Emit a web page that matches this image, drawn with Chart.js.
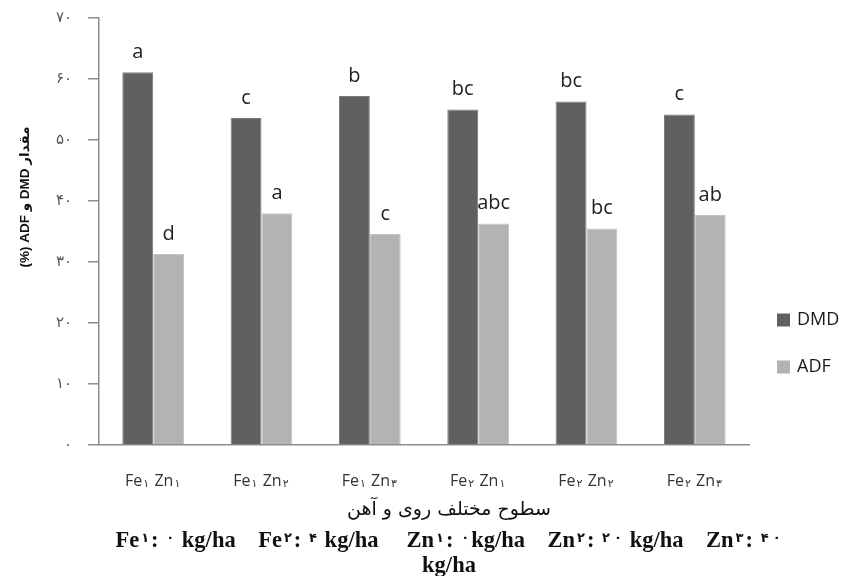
<!DOCTYPE html>
<html>
<head>
<meta charset="utf-8">
<script src="https://cdn.jsdelivr.net/npm/chart.js@4.4.1/dist/chart.umd.min.js"></script>
<style>
  html, body { margin: 0; padding: 0; background: #fff; }
  #wrap { width: 844px; height: 576px; }
</style>
</head>
<body>
<div id="wrap"><canvas id="c" width="844" height="576"></canvas></div>
<script>
// Treatment levels (iron x zinc)
const categories = ['Fe۱ Zn۱', 'Fe۱ Zn۲', 'Fe۱ Zn۳', 'Fe۲ Zn۱', 'Fe۲ Zn۲', 'Fe۲ Zn۳'];

// Dry matter digestibility and acid detergent fibre (%)
const dmdValues = [61.1, 53.6, 57.2, 55.0, 56.3, 54.2];
const adfValues = [31.3, 38.0, 34.6, 36.3, 35.5, 37.7];

// Mean-separation letters
const dmdLetters = ['a', 'c', 'b', 'bc', 'bc', 'c'];
const adfLetters = ['d', 'a', 'c', 'abc', 'bc', 'ab'];

// Y-axis tick labels in Persian digits
const yTickLabels = ['۰', '۱۰', '۲۰', '۳۰', '۴۰', '۵۰', '۶۰', '۷۰'];

const yTitle = 'مقدار DMD و ADF (%)';
const xTitle = 'سطوح مختلف روی و آهن';
const noteLine1 = 'Fe۱: ۰ kg/ha    Fe۲: ۴ kg/ha     Zn۱: ۰kg/ha    Zn۲: ۲۰ kg/ha    Zn۳: ۴۰';
const noteLine2 = 'kg/ha';

const DMD_COLOR = '#606060';
const ADF_COLOR = '#b3b3b3';
const AXIS_COLOR = '#8c8c8c';

const letterLists = [dmdLetters, adfLetters];

// Draws text centred at cx; Persian digits use their own font, advance and shift
function drawRich(ctx, text, cx, baseline, mainFont, digitFont, digitShift, digitAdvance) {
  const runs = [];
  for (const ch of text) {
    const isDigit = /[\u06F0-\u06F9]/.test(ch);
    if (isDigit) { runs.push({ t: ch, d: true }); continue; }
    const last = runs[runs.length - 1];
    if (last && !last.d) last.t += ch;
    else runs.push({ t: ch, d: false });
  }
  let total = 0;
  runs.forEach(r => {
    ctx.font = r.d ? digitFont : mainFont;
    r.gw = ctx.measureText(r.t).width;
    r.w = r.d ? Math.max(r.gw, digitAdvance) : r.gw;
    total += r.w;
  });
  let x = cx - total / 2;
  ctx.textAlign = 'left';
  ctx.textBaseline = 'alphabetic';
  runs.forEach(r => {
    ctx.font = r.d ? digitFont : mainFont;
    const off = r.d ? (r.w - r.gw) / 2 : 0;
    ctx.fillText(r.t, x + off, baseline + (r.d ? digitShift : 0));
    x += r.w;
  });
}

const annotations = {
  id: 'annotations',
  afterDatasetsDraw(chart) {
    const ctx = chart.ctx;
    ctx.save();
    // letters above bars
    ctx.font = '20px "Open Sans", "Liberation Sans", sans-serif';
    ctx.fillStyle = '#222';
    ctx.textAlign = 'center';
    ctx.textBaseline = 'middle';
    chart.data.datasets.forEach((ds, di) => {
      const meta = chart.getDatasetMeta(di);
      meta.data.forEach((bar, i) => {
        ctx.fillText(letterLists[di][i], bar.x, bar.y - 20);
      });
    });
    ctx.restore();
  },
  afterDraw(chart) {
    const ctx = chart.ctx;
    const xScale = chart.scales.x;
    ctx.save();

    // category labels with subscript digits
    ctx.fillStyle = '#333';
    chart.data.labels.forEach((lab, i) => {
      drawRich(ctx, lab, xScale.getPixelForValue(i), 486,
        '16px "Open Sans", "Liberation Sans", sans-serif',
        '11px "DejaVu Sans", sans-serif', 1, 8);
    });

    // y-axis title
    ctx.save();
    ctx.translate(25, 197);
    ctx.rotate(-Math.PI / 2);
    ctx.direction = 'rtl';
    ctx.font = 'bold 13.5px "Liberation Sans", "DejaVu Sans", sans-serif';
    ctx.fillStyle = '#111';
    ctx.textAlign = 'center';
    ctx.textBaseline = 'middle';
    ctx.fillText(yTitle, 0, 0);
    ctx.restore();

    // x-axis title
    ctx.save();
    ctx.direction = 'rtl';
    ctx.font = '19px "DejaVu Sans", sans-serif';
    ctx.fillStyle = '#111';
    ctx.textAlign = 'center';
    ctx.textBaseline = 'middle';
    ctx.fillText(xTitle, 449, 510);
    ctx.restore();

    // footnote with level definitions
    ctx.fillStyle = '#111';
    drawRich(ctx, noteLine1, 449, 547,
      'bold 22.5px "Liberation Serif", "DejaVu Serif", serif',
      'bold 13px "DejaVu Sans", sans-serif', -5, 12);
    drawRich(ctx, noteLine2, 449, 572,
      'bold 22.5px "Liberation Serif", "DejaVu Serif", serif',
      'bold 13px "DejaVu Sans", sans-serif', -5, 12);

    // legend
    ctx.font = '18px "Open Sans", "Liberation Sans", sans-serif';
    ctx.textAlign = 'left';
    ctx.textBaseline = 'middle';
    const legendY = [320, 367];
    chart.data.datasets.forEach((ds, di) => {
      ctx.fillStyle = ds.backgroundColor;
      ctx.fillRect(777, legendY[di] - 6.5, 13, 13);
      ctx.fillStyle = '#1a1a1a';
      ctx.fillText(ds.label, 797, legendY[di]);
    });
    ctx.restore();
  }
};

new Chart(document.getElementById('c'), {
  type: 'bar',
  data: {
    labels: categories,
    datasets: [
      { label: 'DMD', data: dmdValues, backgroundColor: DMD_COLOR, borderColor: '#7a7a7a' },
      { label: 'ADF', data: adfValues, backgroundColor: ADF_COLOR, borderColor: '#c4c4c4' }
    ]
  },
  options: {
    responsive: false,
    animation: false,
    devicePixelRatio: 1,
    layout: { padding: { left: 0, right: 95, top: 18, bottom: 91 } },
    plugins: {
      legend: { display: false },
      tooltip: { enabled: false }
    },
    datasets: {
      bar: { categoryPercentage: 0.57, barPercentage: 1.0, borderWidth: 1 }
    },
    scales: {
      x: {
        grid: { display: false },
        border: { display: true, color: AXIS_COLOR, width: 1.5 },
        ticks: { display: false },
        afterFit(scale) { scale.height = 40; scale.paddingLeft = 0; scale.paddingRight = 0; }
      },
      y: {
        min: 0,
        max: 70,
        grid: {
          display: true,
          drawOnChartArea: false,
          drawTicks: true,
          tickLength: 11,
          color: AXIS_COLOR,
          lineWidth: 1.5
        },
        border: { display: true, color: AXIS_COLOR, width: 1.5 },
        ticks: {
          stepSize: 10,
          color: '#555',
          font: { family: '"DejaVu Sans", sans-serif', size: 15 },
          padding: 16,
          callback: (v) => yTickLabels[Math.round(v / 10)]
        },
        afterFit(scale) { scale.width = 99; scale.paddingTop = 0; scale.paddingBottom = 0; }
      }
    }
  },
  plugins: [annotations]
});
</script>
</body>
</html>
